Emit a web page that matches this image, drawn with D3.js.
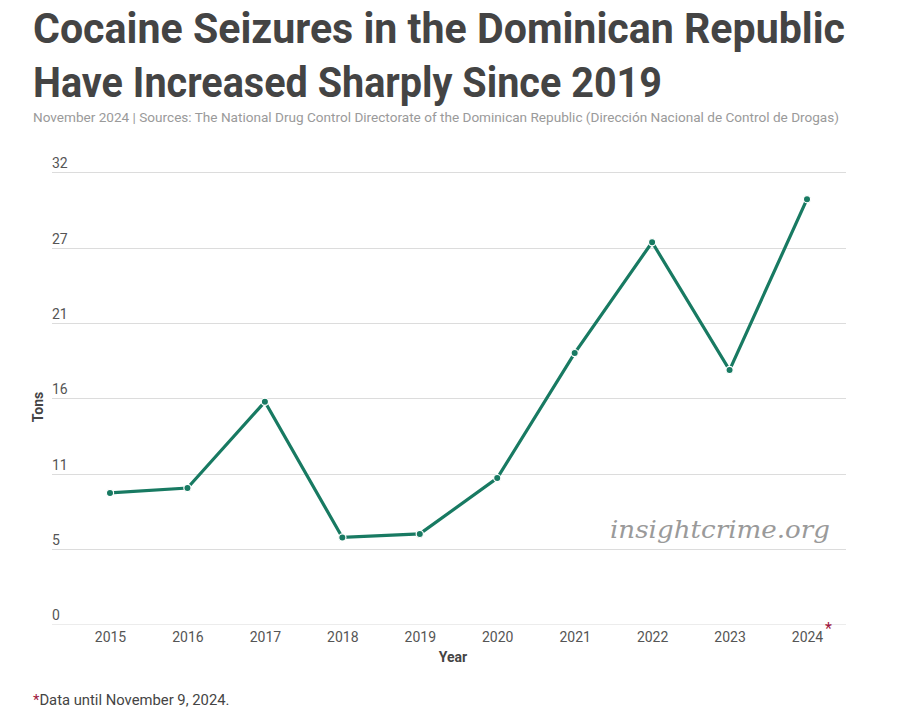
<!DOCTYPE html>
<html><head><meta charset="utf-8">
<script src="https://cdn.jsdelivr.net/npm/d3@7"></script>
<style>
html,body{margin:0;padding:0;background:#fff;}
svg{display:block;font-family:Roboto, "Noto Sans", sans-serif;}
</style></head>
<body>
<svg id="chart" width="900" height="718"></svg>
<script>
const years = ["2015","2016","2017","2018","2019","2020","2021","2022","2023","2024"];
const tons = [9.3, 9.65, 15.75, 6.15, 6.4, 10.35, 19.2, 27.05, 18.0, 30.1];
const yTicks = [0, 5.333, 10.667, 16, 21.333, 26.667, 32];
const yTickLabels = ["0","5","11","16","21","27","32"];

(function(){
const svg = d3.select("#chart");
const plotLeft = 52, plotRight = 846, plotTop = 172.3, plotBottom = 624.3;

const x = d3.scalePoint().domain(years).range([110, 807]);
const y = d3.scaleLinear().domain([0, 32]).range([plotBottom, plotTop]);

// Title
const title = svg.append("text").attr("x", 33).attr("font-weight", 700).attr("fill", "#444").attr("font-size", 43);
title.append("tspan").attr("x", 33).attr("y", 43).attr("textLength", 812).attr("lengthAdjust","spacingAndGlyphs").text("Cocaine Seizures in the Dominican Republic");
title.append("tspan").attr("x", 33).attr("y", 97).attr("textLength", 629).attr("lengthAdjust","spacingAndGlyphs").text("Have Increased Sharply Since 2019");

svg.append("text").attr("x", 33).attr("y", 122).attr("font-size", 13.5).attr("fill", "#9a9a9a")
  .attr("textLength", 806).attr("lengthAdjust","spacingAndGlyphs")
  .text("November 2024 | Sources: The National Drug Control Directorate of the Dominican Republic (Dirección Nacional de Control de Drogas)");

// Grid
const g = svg.append("g");
g.selectAll("line.grid").data(yTicks).join("line")
  .attr("x1", plotLeft).attr("x2", plotRight)
  .attr("y1", d => Math.round(y(d)) + 0.5).attr("y2", d => Math.round(y(d)) + 0.5)
  .attr("stroke", (d,i) => i === 0 ? "#ececec" : "#dcdcdc").attr("stroke-width", 1);

g.selectAll("text.ytick").data(yTicks).join("text")
  .attr("x", plotLeft).attr("y", d => y(d) - 4)
  .attr("font-size", 14).attr("fill", "#555")
  .text((d,i) => yTickLabels[i]);

// Axis title
svg.append("text").attr("transform", `translate(43,407) rotate(-90)`)
  .attr("text-anchor","middle").attr("font-size", 14).attr("font-weight", 700).attr("fill", "#444").text("Tons");

// X axis labels
const xa = svg.append("g").attr("transform", `translate(0,${plotBottom})`)
  .call(d3.axisBottom(x).tickSize(0).tickPadding(8));
xa.select(".domain").remove();
xa.selectAll("text").attr("font-size", 14).attr("fill", "#555").attr("font-family", "Roboto, sans-serif");

svg.append("text").attr("x", x("2024") + 18).attr("y", 634).attr("font-size", 16).attr("fill", "#a0173d").text("*");

svg.append("text").attr("x", 453).attr("y", 662).attr("text-anchor","middle").attr("font-size", 14).attr("font-weight", 700).attr("fill", "#444").text("Year");

// Watermark
svg.append("text").attr("x", 830).attr("y", 538).attr("text-anchor","end")
  .attr("font-family", "'DejaVu Serif', 'Liberation Serif', serif").attr("font-style","italic")
  .attr("font-size", 25).attr("fill", "#9a9a9a")
  .attr("textLength", 220).attr("lengthAdjust","spacingAndGlyphs")
  .text("insightcrime.org");

// Line
const line = d3.line().x((d,i) => x(years[i])).y(d => y(d));
svg.append("path").datum(tons).attr("d", line)
  .attr("fill","none").attr("stroke","#187a62").attr("stroke-width", 3.2).attr("stroke-linejoin","miter");

svg.selectAll("circle.pt").data(tons).join("circle")
  .attr("cx", (d,i) => x(years[i])).attr("cy", d => y(d)).attr("r", 3.6)
  .attr("fill", "#187a62").attr("stroke", "#fff").attr("stroke-width", 1.2);

// Footnote
const fn = svg.append("text").attr("x", 33).attr("y", 705).attr("font-size", 14.8).attr("fill", "#444");
fn.append("tspan").attr("fill", "#a0173d").text("*");
fn.append("tspan").text("Data until November 9, 2024.");
})();
</script>
</body></html>
